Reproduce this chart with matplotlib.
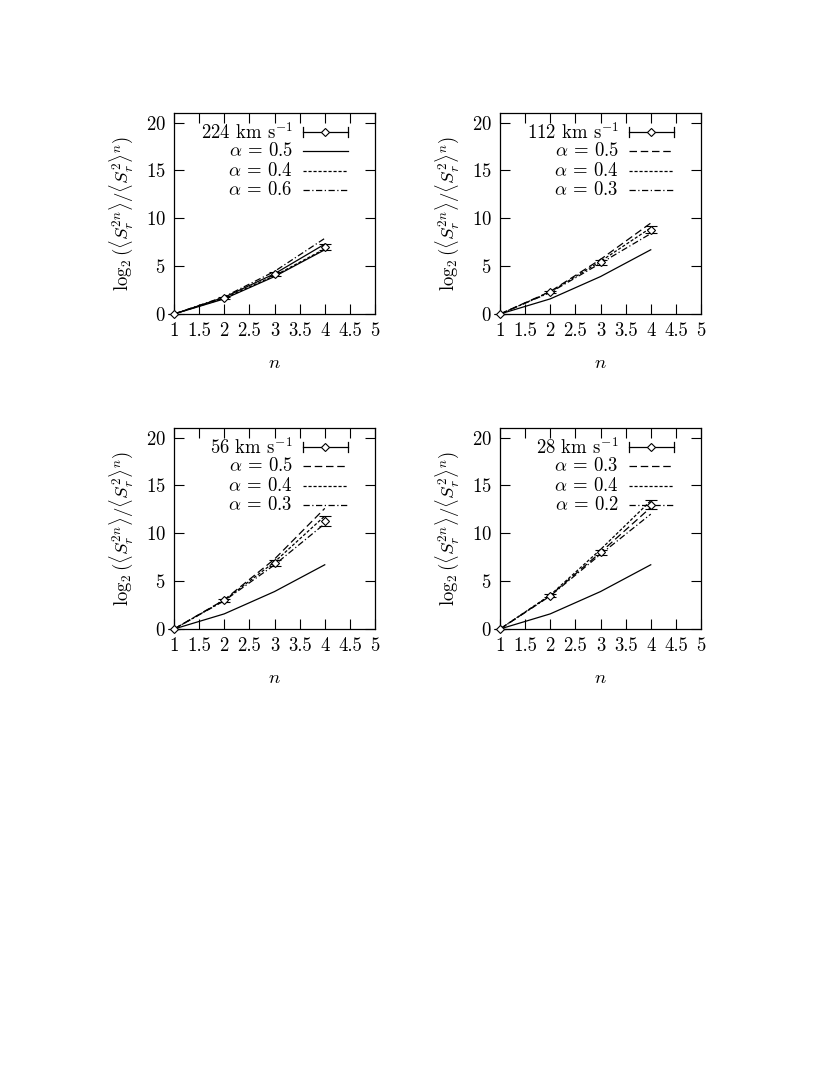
import matplotlib

matplotlib.use("Agg")
import matplotlib.pyplot as plt  # noqa: E402

plt.rcParams["font.family"] = "serif"
plt.rcParams["font.serif"] = ["cmr10", "DejaVu Serif"]
plt.rcParams["mathtext.fontset"] = "cm"
plt.rcParams["axes.formatter.use_mathtext"] = True

W, H, DPI = 830, 1075, 100
FS = 13.5

N = [1, 2, 3, 4]
GAUSS = [0.0, 1.58, 3.91, 6.71]

# one dict per panel: label, data points, error bars, model curves (alpha, style, values)
PANELS = [
    dict(label="224 km s$^{-1}$",
         data=[0.0, 1.7, 4.2, 7.0], err=[0.05, 0.12, 0.2, 0.3],
         models=[("0.5", "solid", [0.0, 1.75, 4.2, 7.3]),
                 ("0.4", "dotted", [0.0, 1.65, 4.0, 6.8]),
                 ("0.6", "dashdot", [0.0, 1.8, 4.45, 7.9])]),
    dict(label="112 km s$^{-1}$",
         data=[0.0, 2.3, 5.4, 8.8], err=[0.05, 0.15, 0.25, 0.35],
         models=[("0.5", "dashed", [0.0, 2.35, 5.7, 9.5]),
                 ("0.4", "dotted", [0.0, 2.3, 5.5, 9.0]),
                 ("0.3", "dashdot", [0.0, 2.25, 5.3, 8.4])]),
    dict(label="56 km s$^{-1}$",
         data=[0.0, 3.0, 6.9, 11.3], err=[0.05, 0.15, 0.35, 0.5],
         models=[("0.5", "dashed", [0.0, 3.05, 7.3, 12.6]),
                 ("0.4", "dotted", [0.0, 3.0, 7.0, 11.8]),
                 ("0.3", "dashdot", [0.0, 2.95, 6.7, 11.0])]),
    dict(label="28 km s$^{-1}$",
         data=[0.0, 3.5, 8.0, 13.0], err=[0.05, 0.15, 0.3, 0.5],
         models=[("0.3", "dashed", [0.0, 3.5, 8.0, 12.7]),
                 ("0.4", "dotted", [0.0, 3.55, 8.3, 13.4]),
                 ("0.2", "dashdot", [0.0, 3.45, 7.8, 12.0])]),
]

DASHES = {
    "solid": None,
    "dashed": (6, 3),
    "dotted": (2.5, 1.5),
    "dashdot": (5, 2, 1, 2),
}

# axes boxes in pixels: left, top
BOXES = [(174, 113), (500, 113), (174, 428), (500, 428)]
BW, BH = 201, 201


def _line(ax, x, y, style, **kw):
    ln, = ax.plot(x, y, color="black", lw=0.9, **kw)
    if DASHES[style] is not None:
        ln.set_dashes(DASHES[style])
    return ln


def panel(fig, box, p):
    l, t = box
    ax = fig.add_axes([l / W, 1 - (t + BH) / H, BW / W, BH / H])
    ax.set_xlim(1, 5)
    ax.set_ylim(0, 21)
    ax.set_xticks([1, 1.5, 2, 2.5, 3, 3.5, 4, 4.5, 5])
    ax.set_xticklabels(["1", "1.5", "2", "2.5", "3", "3.5", "4", "4.5", "5"])
    ax.set_yticks([0, 5, 10, 15, 20])
    ax.tick_params(direction="in", length=7, width=0.8, top=True, right=True,
                   labelsize=FS, pad=6)
    for s in ax.spines.values():
        s.set_linewidth(0.9)

    _line(ax, N, GAUSS, "solid")
    for _, style, vals in p["models"]:
        _line(ax, N, vals, style)
    ax.errorbar(N, p["data"], yerr=p["err"], fmt="D", ms=4.3, mfc="white",
                mec="black", mew=0.8, ecolor="black", elinewidth=0.9,
                capsize=4, capthick=0.9, color="black", zorder=5, clip_on=False)

    # gnuplot-style key
    tr = ax.transAxes
    rows = [0.905, 0.81, 0.71, 0.615]
    x_txt, x0, x1 = 0.59, 0.64, 0.865
    ax.text(x_txt, rows[0], p["label"], transform=tr, ha="right", va="center",
            fontsize=FS)
    ax.plot([x0, x1], [rows[0], rows[0]], transform=tr, color="black", lw=0.9)
    for xe in (x0, x1):
        ax.plot([xe, xe], [rows[0] - 0.025, rows[0] + 0.025], transform=tr,
                color="black", lw=0.9)
    ax.plot([(x0 + x1) / 2], [rows[0]], "D", ms=4.3, mfc="white", mec="black",
            mew=0.8, transform=tr)
    for y, (a, style, _) in zip(rows[1:], p["models"]):
        ax.text(x_txt, y, rf"$\alpha$ = {a}", transform=tr, ha="right",
                va="center", fontsize=FS)
        _line(ax, [x0, x1], [y, y], style, transform=tr)

    ax.set_xlabel("$n$", fontsize=FS, labelpad=10)
    ax.set_ylabel(r"$\log_2(\langle S_r^{2n}\rangle/\langle S_r^2\rangle^n)$",
                  fontsize=FS, labelpad=8)
    return ax


def main():
    fig = plt.figure(figsize=(W / DPI, H / DPI), dpi=DPI)
    for box, p in zip(BOXES, PANELS):
        panel(fig, box, p)
    fig.savefig("out.png", dpi=DPI)
    plt.close(fig)


if __name__ == "__main__":
    main()
